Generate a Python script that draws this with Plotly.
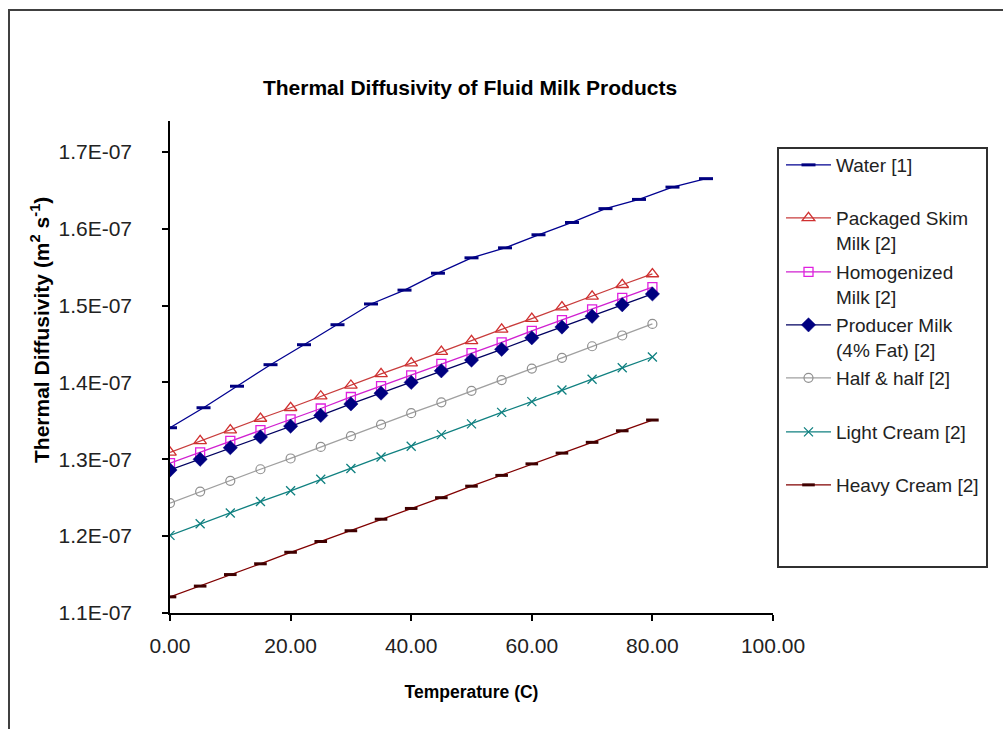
import plotly.graph_objects as go

# ---------------- data ----------------
water_x = [0.00, 5.56, 11.11, 16.67, 22.22, 27.78, 33.33, 38.89, 44.44, 50.00,
           55.56, 61.11, 66.67, 72.22, 77.78, 83.33, 88.89]
water_y = [1.341e-07, 1.367e-07, 1.395e-07, 1.423e-07, 1.449e-07, 1.475e-07, 1.502e-07,
           1.520e-07, 1.542e-07, 1.562e-07, 1.575e-07, 1.592e-07, 1.608e-07, 1.626e-07,
           1.638e-07, 1.654e-07, 1.665e-07]

milk_x = [0, 5, 10, 15, 20, 25, 30, 35, 40, 45, 50, 55, 60, 65, 70, 75, 80]
skim_y = [1.309e-07, 1.324e-07, 1.338e-07, 1.353e-07, 1.367e-07, 1.382e-07, 1.396e-07,
          1.411e-07, 1.425e-07, 1.440e-07, 1.454e-07, 1.469e-07, 1.483e-07, 1.498e-07,
          1.512e-07, 1.527e-07, 1.541e-07]
homog_y = [1.295e-07, 1.309e-07, 1.324e-07, 1.338e-07, 1.352e-07, 1.366e-07, 1.381e-07,
           1.395e-07, 1.409e-07, 1.424e-07, 1.438e-07, 1.452e-07, 1.467e-07, 1.481e-07,
           1.495e-07, 1.510e-07, 1.524e-07]
producer_y = [1.286e-07, 1.300e-07, 1.315e-07, 1.329e-07, 1.343e-07, 1.357e-07, 1.372e-07,
              1.386e-07, 1.400e-07, 1.415e-07, 1.429e-07, 1.443e-07, 1.458e-07, 1.472e-07,
              1.486e-07, 1.501e-07, 1.515e-07]
half_y = [1.243e-07, 1.258e-07, 1.272e-07, 1.287e-07, 1.301e-07, 1.316e-07, 1.330e-07,
          1.345e-07, 1.360e-07, 1.374e-07, 1.389e-07, 1.403e-07, 1.418e-07, 1.432e-07,
          1.447e-07, 1.461e-07, 1.476e-07]
light_y = [1.201e-07, 1.216e-07, 1.230e-07, 1.245e-07, 1.259e-07, 1.274e-07, 1.288e-07,
           1.303e-07, 1.317e-07, 1.332e-07, 1.346e-07, 1.361e-07, 1.375e-07, 1.390e-07,
           1.404e-07, 1.419e-07, 1.433e-07]
heavy_y = [1.121e-07, 1.135e-07, 1.150e-07, 1.164e-07, 1.179e-07, 1.193e-07, 1.207e-07,
           1.222e-07, 1.236e-07, 1.250e-07, 1.265e-07, 1.279e-07, 1.294e-07, 1.308e-07,
           1.322e-07, 1.337e-07, 1.351e-07]

series_names = ["Water [1]", "Packaged Skim<br>Milk [2]", "Homogenized<br>Milk [2]",
                "Producer Milk<br>(4% Fat) [2]", "Half &amp; half [2]",
                "Light Cream [2]", "Heavy Cream [2]"]

y_tickvals = [1.1e-07, 1.2e-07, 1.3e-07, 1.4e-07, 1.5e-07, 1.6e-07, 1.7e-07]
y_ticktext = ["1.1E-07", "1.2E-07", "1.3E-07", "1.4E-07", "1.5E-07", "1.6E-07", "1.7E-07"]
x_tickvals = [0, 20, 40, 60, 80, 100]

FONT = "Liberation Sans, Arial, sans-serif"

styles = [
    dict(line="#000090", marker=dict(symbol="line-ew", size=10, color="#000080",
                                     line=dict(width=3, color="#000080"))),
    dict(line="#C83C3C", marker=dict(symbol="triangle-up-open", size=11, color="#D03030",
                                     line=dict(width=1.3, color="#D03030"))),
    dict(line="#D020D0", marker=dict(symbol="square-open", size=9, color="#E020E0",
                                     line=dict(width=1.3, color="#E020E0"))),
    dict(line="#000060", marker=dict(symbol="diamond", size=11, color="#000080",
                                     line=dict(width=0.5, color="#000080"))),
    dict(line="#A0A0A0", marker=dict(symbol="circle-open", size=9, color="#909090",
                                     line=dict(width=1.2, color="#909090"))),
    dict(line="#108080", marker=dict(symbol="x-thin-open", size=9, color="#108080",
                                     line=dict(width=1.3, color="#108080"))),
    dict(line="#800000", marker=dict(symbol="line-ew", size=9, color="#400000",
                                     line=dict(width=3, color="#400000"))),
]

xs = [water_x] + [milk_x] * 6
ys = [water_y, skim_y, homog_y, producer_y, half_y, light_y, heavy_y]

# plot area geometry (px)
L, R, T, B = 170, 773, 121, 613
W, H = 1003, 729
pw, ph = R - L, B - T


def px_x(p):
    return (p - L) / pw


def px_y(p):
    return (B - p) / ph


# vertical position (px) of each legend entry's first text line
legend_rows = [165, 218, 272, 325, 378, 432, 485]

fig = go.Figure()
legend_layouts = {}
for i, (name, x, y, st) in enumerate(zip(series_names, xs, ys, styles)):
    lname = "legend" if i == 0 else f"legend{i + 1}"
    fig.add_trace(go.Scatter(
        x=x, y=y, name=name, mode="lines+markers",
        line=dict(color=st["line"], width=1.3),
        marker=st["marker"], legend=lname,
    ))
    legend_layouts[lname] = dict(
        x=px_x(781), xanchor="left", y=px_y(legend_rows[i] - 19), yanchor="top",
        font=dict(size=19, color="#222222", family=FONT),
        bgcolor="rgba(0,0,0,0)", borderwidth=0, valign="top", itemwidth=45,
    )

fig.update_layout(
    width=W, height=H,
    margin=dict(l=L, r=W - R, t=T, b=H - B),
    paper_bgcolor="white", plot_bgcolor="white",
    font=dict(family=FONT, color="#222222"),
    title=dict(text="<b>Thermal Diffusivity of Fluid Milk Products</b>",
               x=px_x(470), xref="paper", xanchor="center",
               y=1 - 88 / H, yref="container", yanchor="middle",
               font=dict(size=21, color="#000000", family=FONT)),
    showlegend=True,
    xaxis=dict(range=[0, 100], tickvals=x_tickvals, tickformat=".2f",
               showline=True, linecolor="#000000", linewidth=1.5,
               ticks="outside", ticklen=6, tickcolor="#000000", tickwidth=1.5,
               showgrid=False, zeroline=False,
               tickfont=dict(size=21, color="#222222", family=FONT),
               ticklabelstandoff=7,
               title=dict(text="<b>Temperature (C)</b>", standoff=30,
                          font=dict(size=17.5, color="#000000", family=FONT))),
    yaxis=dict(range=[1.1e-07, 1.74e-07], tickvals=y_tickvals, ticktext=y_ticktext,
               showline=True, linecolor="#000000", linewidth=1.5,
               ticks="outside", ticklen=6, tickcolor="#000000", tickwidth=1.5,
               showgrid=False, zeroline=False,
               tickfont=dict(size=21, color="#222222", family=FONT),
               ticklabelstandoff=26),
    annotations=[
        dict(text="<b>Thermal Diffusivity (m<sup>2</sup> s<sup>-1</sup>)</b>",
             xref="paper", yref="paper", x=px_x(40), y=px_y(330),
             xanchor="center", yanchor="middle", textangle=-90, showarrow=False,
             font=dict(size=21, color="#000000", family=FONT)),
    ],
    shapes=[
        # chart area border (extends beyond right/bottom edge like the reference)
        dict(type="rect", xref="paper", yref="paper",
             x0=px_x(9), x1=px_x(1020), y0=px_y(745), y1=px_y(10),
             line=dict(color="#404040", width=2), fillcolor="rgba(0,0,0,0)", layer="above"),
        # legend box
        dict(type="rect", xref="paper", yref="paper",
             x0=px_x(778), x1=px_x(987), y0=px_y(567), y1=px_y(148),
             line=dict(color="#303030", width=2), fillcolor="rgba(0,0,0,0)", layer="above"),
    ],
    **legend_layouts,
)

fig.write_html("out.html")
